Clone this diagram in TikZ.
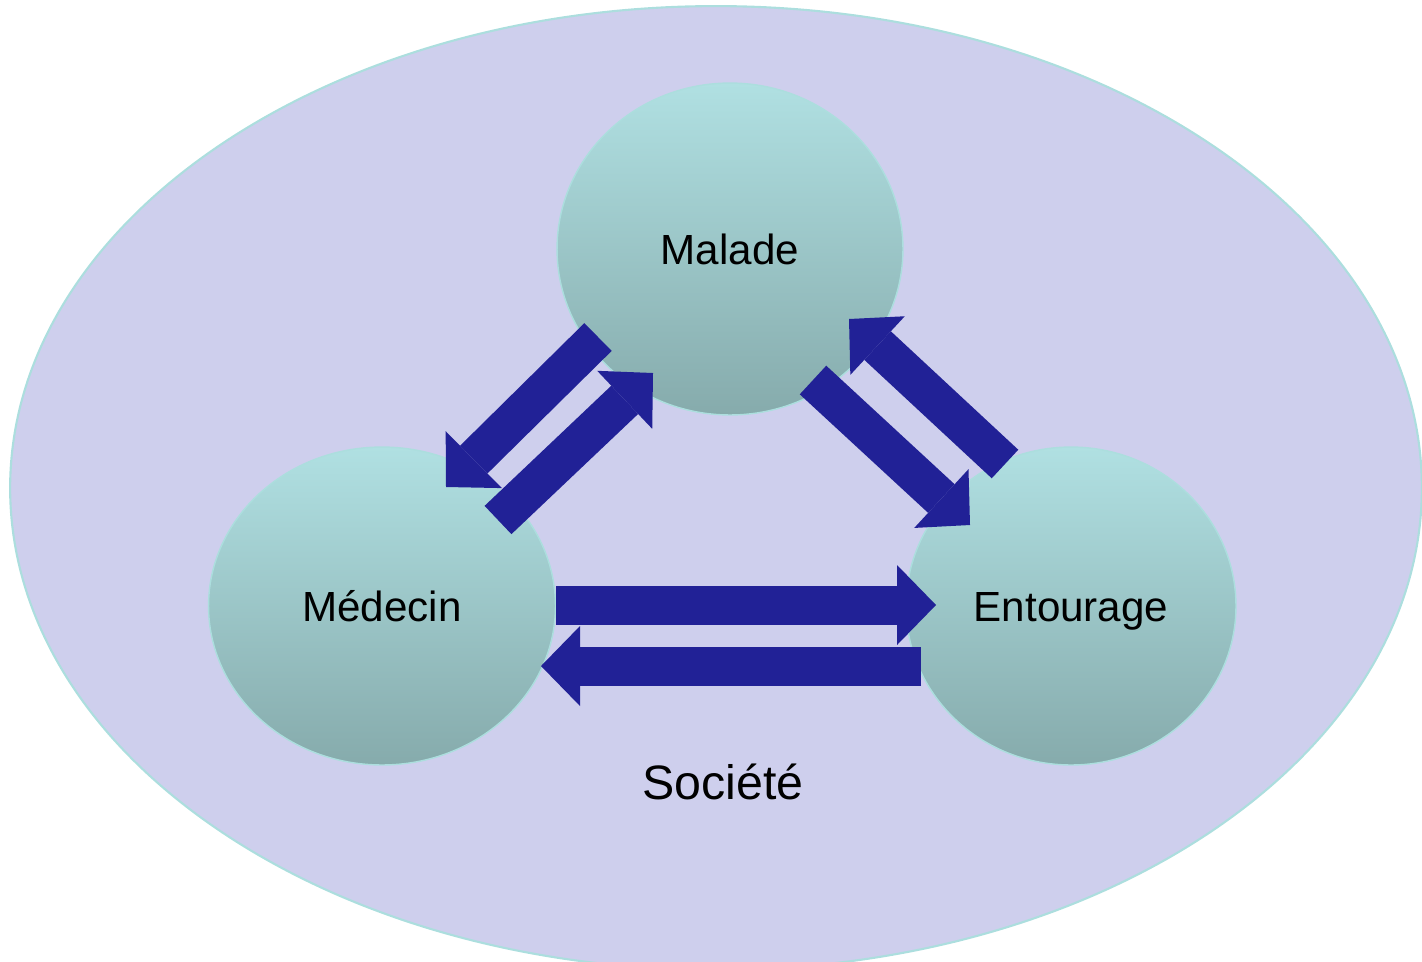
\documentclass[tikz,border=0pt]{standalone}
\usepackage{fontspec}
\setmainfont{Liberation Sans}
\usetikzlibrary{arrows.meta,shapes.geometric}
\definecolor{lavender}{RGB}{206,207,237}
\definecolor{rim}{RGB}{172,222,222}
\definecolor{tealtop}{RGB}{176,224,226}
\definecolor{tealbot}{RGB}{134,171,172}
\definecolor{navy}{RGB}{33,33,150}
\tikzset{
  society/.style={ellipse,fill=lavender,draw=rim,line width=1.2pt,inner sep=0pt,
    minimum width=28.24cm,minimum height=19.28cm},
  actor/.style={ellipse,draw=rim,thick,top color=tealtop,bottom color=tealbot,inner sep=0pt,
    font=\fontsize{24}{28}\selectfont,text height=17.3pt,text depth=0pt},
  bigarrow/.style={draw=navy,line width=0.78cm,
    -{Triangle[length=0.78cm,width=1.6cm,line width=0pt]}},
  tag/.style={font=\fontsize{27.5}{32}\selectfont,anchor=base},
}
\begin{document}
\begin{tikzpicture}[x=0.02cm,y=-0.02cm]
  \clip (0,0) rectangle (1422,961);
  \node[society] (soc) at (716,488) {};
  % the three actors
  \node[actor,minimum width=6.92cm,minimum height=6.64cm] (mal) at (730,249) {Malade};
  \node[actor,minimum width=6.94cm,minimum height=6.36cm] (med) at (382,606) {Médecin};
  \node[actor,minimum width=6.6cm,minimum height=6.36cm] (ent) at (1071,606) {Entourage};
  \node[tag] (soctxt) at (723,799) {Société};
  % arrow ends
  \coordinate (malA) at (598,337);  \coordinate (medA) at (446,487);
  \coordinate (medB) at (498,520);  \coordinate (malB) at (653,373);
  \coordinate (entC) at (1005,464); \coordinate (malC) at (849,319);
  \coordinate (malD) at (813,380);  \coordinate (entD) at (970,525);
  \coordinate (medE) at (556,605);  \coordinate (entE) at (936,605);
  \coordinate (entF) at (921,666);  \coordinate (medF) at (541,666);
  \draw[bigarrow] (malA) -- (medA);
  \draw[bigarrow] (medB) -- (malB);
  \draw[bigarrow] (entC) -- (malC);
  \draw[bigarrow] (malD) -- (entD);
  \draw[bigarrow] (medE) -- (entE);
  \draw[bigarrow] (entF) -- (medF);
\end{tikzpicture}
\end{document}
